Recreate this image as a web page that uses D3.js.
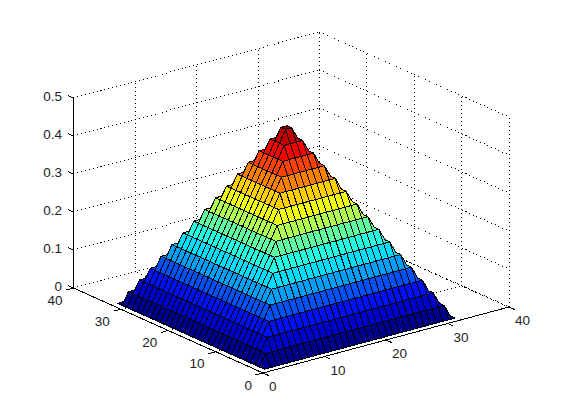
<!DOCTYPE html>
<html>
<head>
<meta charset="utf-8">
<script src="https://cdnjs.cloudflare.com/ajax/libs/d3/7.8.5/d3.min.js"></script>
<style>
  body { margin: 0; background: #fff; }
  text { font-family: "Liberation Sans", sans-serif; font-size: 13.5px; fill: #222; }
</style>
</head>
<body>
<svg id="chart" width="561" height="420"></svg>
<script>
// data
var xTicks = [0, 10, 20, 30, 40];
var yTicks = [0, 10, 20, 30, 40];
var zTicks = [0, 0.1, 0.2, 0.3, 0.4, 0.5];
var zTickLabels = ['0', '0.1', '0.2', '0.3', '0.4', '0.5'];
var xGrid = [1, 2, 3, 4, 5, 6, 7, 8, 9, 10, 11, 12, 13, 14, 15, 16, 17, 18, 19, 20, 21, 22, 23, 24, 25, 26, 27, 28, 29, 30, 31, 32];
var yGrid = [1, 2, 3, 4, 5, 6, 7, 8, 9, 10, 11, 12, 13, 14, 15, 16, 17, 18, 19, 20, 21, 22, 23, 24, 25, 26, 27, 28, 29, 30, 31, 32];
// which terrace each grid line belongs to, counted from the outer edge
var gridRing = [0, 1, 2, 3, 4, 5, 6, 7, 8, 9, 10, 11, 12, 13, 14, 15, 15, 14, 13, 12, 11, 10, 9, 8, 7, 6, 5, 4, 3, 2, 1, 0];
// height of each terrace
var ringLevels = [0, 0.032, 0.064, 0.096, 0.129, 0.161, 0.193, 0.225, 0.257, 0.289, 0.321, 0.354, 0.386, 0.418, 0.45, 0.482];

var svg = d3.select('#chart');

// oblique projection of the box: origin is the front corner
var originX = 263;
var originY = 373;
var xToPxX = d3.scaleLinear().domain([0, 40]).range([0, 246]);
var xToPxY = d3.scaleLinear().domain([0, 40]).range([0, -66]);
var yToPxX = d3.scaleLinear().domain([0, 40]).range([0, -189.5]);
var yToPxY = d3.scaleLinear().domain([0, 40]).range([0, -85]);
var zToPx = d3.scaleLinear().domain([0, 0.5]).range([0, -190]);

function project(x, y, z) {
  return [
    originX + xToPxX(x) + yToPxX(y),
    originY + xToPxY(x) + yToPxY(y) + zToPx(z)
  ];
}

// jet colormap, 64 steps
var jet = d3.scaleLinear()
  .domain([0, 7, 23, 39, 55, 63])
  .range(['rgb(0,0,143)', 'rgb(0,0,255)', 'rgb(0,255,255)', 'rgb(255,255,0)', 'rgb(255,0,0)', 'rgb(128,0,0)'])
  .interpolate(d3.interpolateRgb);
var cIndex = d3.scaleQuantize()
  .domain(d3.extent(ringLevels))
  .range(d3.range(64));

function drawLine(g, a, b) {
  g.append('line')
    .attr('x1', a[0]).attr('y1', a[1])
    .attr('x2', b[0]).attr('y2', b[1]);
}

// back walls and floor, dotted
var grid = svg.append('g')
  .attr('stroke', '#000')
  .attr('stroke-width', 1)
  .attr('stroke-dasharray', '1,3')
  .attr('shape-rendering', 'crispEdges')
  .attr('fill', 'none');

xTicks.forEach(function(t){
  drawLine(grid, project(t, 0, 0), project(t, 40, 0));
  drawLine(grid, project(t, 40, 0), project(t, 40, 0.5));
});
yTicks.forEach(function(t){
  drawLine(grid, project(0, t, 0), project(40, t, 0));
  drawLine(grid, project(40, t, 0), project(40, t, 0.5));
});
zTicks.forEach(function(t){
  drawLine(grid, project(0, 40, t), project(40, 40, t));
  drawLine(grid, project(40, 40, t), project(40, 0, t));
});

// surface cells, far ones first
var cells = [];
for (var i = xGrid.length - 2; i >= 0; i--) {
  for (var j = yGrid.length - 2; j >= 0; j--) {
    cells.push([i, j]);
  }
}

function height(i, j) {
  return ringLevels[Math.min(gridRing[i], gridRing[j])];
}

var lineGen = d3.line();

svg.append('g')
  .selectAll('path')
  .data(cells)
  .enter()
  .append('path')
  .attr('d', function(d){
    var i = d[0], j = d[1];
    return lineGen([
      project(xGrid[i], yGrid[j], height(i, j)),
      project(xGrid[i + 1], yGrid[j], height(i + 1, j)),
      project(xGrid[i + 1], yGrid[j + 1], height(i + 1, j + 1)),
      project(xGrid[i], yGrid[j + 1], height(i, j + 1))
    ]) + 'Z';
  })
  .attr('fill', function(d){ return jet(cIndex(height(d[0], d[1]))); })
  .attr('stroke', '#000')
  .attr('stroke-width', 1)
  .attr('stroke-linejoin', 'round')
  .attr('shape-rendering', 'crispEdges');

// solid axes and ticks
var axes = svg.append('g')
  .attr('stroke', '#000')
  .attr('stroke-width', 1)
  .attr('shape-rendering', 'crispEdges');
drawLine(axes, project(0, 0, 0), project(40, 0, 0));
drawLine(axes, project(0, 0, 0), project(0, 40, 0));
drawLine(axes, project(0, 40, 0), project(0, 40, 0.5));

xTicks.forEach(function(t){
  drawLine(axes, project(t, 0, 0), project(t, -1.2, 0));
  svg.append('text')
    .attr('x', project(t, 0, 0)[0] + 6)
    .attr('y', project(t, 0, 0)[1] + 13.5)
    .attr('dy', '0.35em')
    .text(t);
});
yTicks.forEach(function(t){
  drawLine(axes, project(0, t, 0), project(-1.2, t, 0));
  svg.append('text')
    .attr('x', project(0, t, 0)[0] - 11)
    .attr('y', project(0, t, 0)[1] + 12)
    .attr('dy', '0.35em')
    .attr('text-anchor', 'end')
    .text(t);
});
zTicks.forEach(function(t, idx){
  drawLine(axes, project(0, 40, t), project(0, 41.2, t));
  svg.append('text')
    .attr('x', project(0, 40, t)[0] - 11.5)
    .attr('y', project(0, 40, t)[1] - 2)
    .attr('dy', '0.35em')
    .attr('text-anchor', 'end')
    .text(zTickLabels[idx]);
});
</script>
</body>
</html>
